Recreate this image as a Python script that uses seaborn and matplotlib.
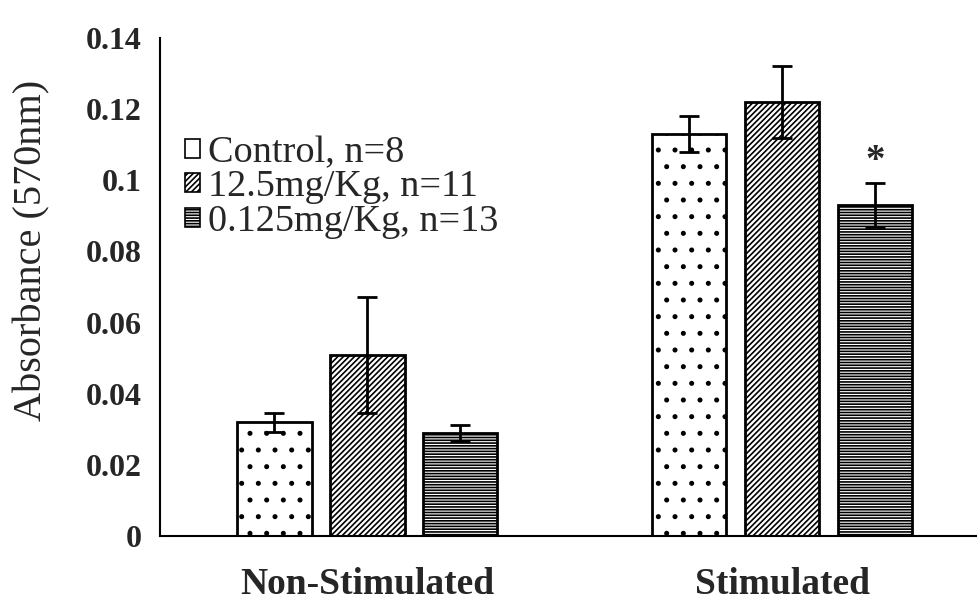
import matplotlib
matplotlib.use("Agg")
import matplotlib.pyplot as plt
import seaborn as sns
import pandas as pd
import numpy as np
from matplotlib.patches import Patch

conditions = ["Non-Stimulated", "Stimulated"]
groups = ["Control, n=8", "12.5mg/Kg, n=11", "0.125mg/Kg, n=13"]
means_ns = [0.032, 0.051, 0.029]
means_s = [0.113, 0.122, 0.093]
err_ns = [0.0027, 0.0163, 0.0023]
err_s = [0.005, 0.010, 0.0062]
yticks = [0, 0.02, 0.04, 0.06, 0.08, 0.1, 0.12, 0.14]
ytick_labels = ["0", "0.02", "0.04", "0.06", "0.08", "0.1", "0.12", "0.14"]

sns.set_theme(style="white")
plt.rcParams['font.family'] = ['Liberation Serif', 'DejaVu Serif']
plt.rcParams['hatch.linewidth'] = 1.2

rows = []
for c, ms, es in [(conditions[0], means_ns, err_ns), (conditions[1], means_s, err_s)]:
    for g, m, e in zip(groups, ms, es):
        rows.append({"condition": c, "group": g, "value": m, "err": e})
df = pd.DataFrame(rows)

fig = plt.figure(figsize=(9.77, 6.0), dpi=100)
ax = fig.add_axes([160/977, 1-536/600, 1-160/977, (536-38)/600])

sns.barplot(data=df, x="condition", y="value", hue="group", order=conditions,
            hue_order=groups, width=0.672, gap=0.2, errorbar=None, ax=ax,
            palette=["white", "white", "white"], edgecolor="black", linewidth=2.0,
            legend=False)

hatches = [".", "//////", "------"]
patches = [p for p in ax.patches]
for i, p in enumerate(patches):
    hi = i // len(conditions)
    p.set_hatch(hatches[hi])
    p.set_facecolor("white")
    p.set_edgecolor("black")

for i, p in enumerate(patches):
    hi = i // len(conditions)
    ci = i % len(conditions)
    row = df[(df.group == groups[hi]) & (df.condition == conditions[ci])].iloc[0]
    xc = p.get_x() + p.get_width() / 2
    ax.errorbar(xc, row.value, yerr=row.err, fmt="none", ecolor="black",
                elinewidth=2.0, capsize=7, capthick=2.0, zorder=5)

p_star = patches[2 * len(conditions) + 1]
ax.text(p_star.get_x() + p_star.get_width() / 2, means_s[2] + err_s[2] + 0.0008, "*",
        ha="center", va="bottom", fontsize=28, fontweight="bold")

ax.set_xlim(-0.5, 1.47)
ax.set_ylim(0, 0.14)
ax.set_yticks(yticks)
ax.set_yticklabels(ytick_labels, fontsize=23, fontweight="bold")
ax.set_xticks([0, 1])
ax.set_xticklabels(conditions, fontsize=27, fontweight="bold")
ax.tick_params(axis="x", length=0, pad=22)
ax.tick_params(axis="y", length=0, pad=13)
ax.set_xlabel("")
ax.set_ylabel("Absorbance (570nm)", fontsize=29)
ax.yaxis.set_label_coords((50 - 160) / 817, (536 - 250) / 498)
for s in ["top", "right"]:
    ax.spines[s].set_visible(False)
for s in ["left", "bottom"]:
    ax.spines[s].set_color("black")
    ax.spines[s].set_linewidth(1.5)

handles = [Patch(facecolor="white", edgecolor="black", hatch=h, linewidth=1.2)
           for h in ["", "//////", "------"]]
ax.legend(handles, groups, loc="upper left", bbox_to_anchor=(0.012, 0.835), frameon=False,
          fontsize=27.5, handlelength=0.4, handleheight=0.4, handletextpad=0.2,
          labelspacing=0.0, borderaxespad=0)

fig.savefig("out.png", dpi=100)
